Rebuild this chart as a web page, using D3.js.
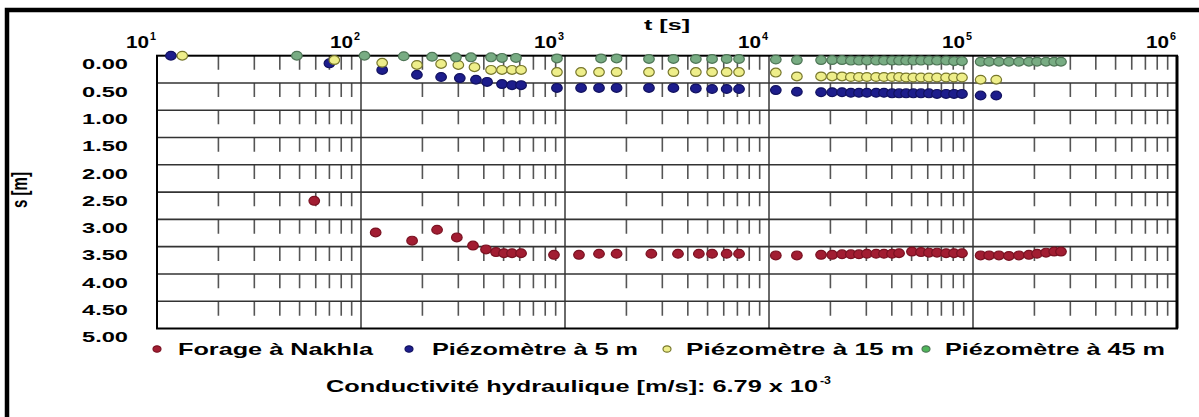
<!DOCTYPE html>
<html><head><meta charset="utf-8">
<script src="https://cdn.jsdelivr.net/npm/d3@7"></script>
<style>
body{margin:0;background:#fff}
svg{display:block}
text{font-family:"Liberation Sans",Arial,sans-serif;font-weight:bold;fill:#000}
</style>
</head><body>
<svg id="c" width="1199" height="417"></svg>
<script>
// ---------------- data ----------------
const yTicks = [0, 0.5, 1, 1.5, 2, 2.5, 3, 3.5, 4, 4.5, 5];
const yTickLabels = ["0.00","0.50","1.00","1.50","2.00","2.50","3.00","3.50","4.00","4.50","5.00"];
const decades = [10, 100, 1000, 10000, 100000, 1000000];
const decadeExp = ["1","2","3","4","5","6"];
const xTitle = "t [s]";
const yTitle = "s [m]";

// Forage à Nakhla (red)
const tRed = [59, 118, 178, 236, 295, 354, 410, 459, 502, 550, 609, 883, 1171, 1468, 1790, 2650, 3580, 4530, 5260, 6200, 7130, 10800, 13700, 18000, 20400, 22800, 25200, 27600, 30200, 33500, 36600, 40100, 43400, 50200, 55600, 60800, 66600, 73800, 80700, 88300, 109000, 120000, 134000, 150000, 168000, 188000, 206000, 228000, 250000, 270000];
const sRed = [2.66, 3.24, 3.39, 3.19, 3.33, 3.48, 3.55, 3.60, 3.62, 3.62, 3.62, 3.65, 3.65, 3.63, 3.63, 3.63, 3.63, 3.63, 3.63, 3.63, 3.63, 3.66, 3.66, 3.65, 3.65, 3.64, 3.64, 3.64, 3.63, 3.63, 3.63, 3.63, 3.62, 3.59, 3.60, 3.61, 3.61, 3.62, 3.62, 3.62, 3.66, 3.66, 3.66, 3.67, 3.66, 3.65, 3.63, 3.61, 3.59, 3.59];

// Piézomètre à 5 m (blue)
const tBlue = [11.7, 70, 127, 188, 247, 305, 366, 415, 491, 550, 609, 913, 1199, 1468, 1790, 2580, 3400, 4380, 5260, 6200, 7130, 10800, 13700, 18000, 20400, 22800, 25200, 27600, 30200, 33500, 36600, 40100, 43400, 47000, 51000, 55600, 60800, 66600, 73800, 80700, 88300, 109000, 130000];
const sBlue = [0.0, 0.14, 0.26, 0.35, 0.39, 0.41, 0.44, 0.48, 0.52, 0.54, 0.54, 0.59, 0.59, 0.59, 0.59, 0.59, 0.59, 0.60, 0.61, 0.61, 0.61, 0.63, 0.66, 0.67, 0.67, 0.67, 0.68, 0.68, 0.68, 0.68, 0.68, 0.69, 0.69, 0.69, 0.69, 0.69, 0.69, 0.70, 0.70, 0.70, 0.70, 0.73, 0.73];

// Piézomètre à 15 m (yellow)
const tYellow = [13.3, 74, 127, 188, 247, 300, 360, 434, 491, 550, 609, 913, 1199, 1468, 1790, 2580, 3400, 4380, 5260, 6200, 7130, 10800, 13700, 18000, 20400, 22800, 25200, 27600, 30200, 33500, 36600, 40100, 43400, 47000, 51000, 55600, 60800, 66600, 73800, 80700, 88300, 109000, 130000];
const sYellow = [0.0, 0.08, 0.13, 0.17, 0.15, 0.17, 0.21, 0.26, 0.26, 0.26, 0.26, 0.30, 0.30, 0.30, 0.30, 0.30, 0.30, 0.30, 0.30, 0.30, 0.30, 0.31, 0.38, 0.38, 0.38, 0.38, 0.39, 0.39, 0.39, 0.39, 0.39, 0.39, 0.39, 0.40, 0.40, 0.40, 0.40, 0.40, 0.40, 0.40, 0.40, 0.44, 0.44];

// Piézomètre à 45 m (green)
const tGreen = [48.5, 104, 162, 223, 292, 346, 434, 491, 575, 913, 1502, 1790, 2580, 3400, 4380, 5260, 6200, 7130, 10800, 13700, 18000, 20400, 22800, 25200, 27600, 30200, 33500, 36600, 40100, 43400, 47000, 51000, 55600, 60800, 66600, 73800, 80700, 88300, 109000, 120000, 134000, 150000, 168000, 188000, 206000, 228000, 250000, 270000];
const sGreen = [0.0, 0.0, 0.01, 0.02, 0.03, 0.03, 0.03, 0.04, 0.04, 0.05, 0.05, 0.05, 0.06, 0.06, 0.06, 0.06, 0.06, 0.06, 0.07, 0.08, 0.08, 0.08, 0.08, 0.09, 0.09, 0.09, 0.09, 0.09, 0.09, 0.09, 0.09, 0.09, 0.09, 0.09, 0.09, 0.09, 0.10, 0.10, 0.11, 0.11, 0.11, 0.11, 0.11, 0.11, 0.11, 0.11, 0.11, 0.11];

const seriesNames = ["Forage à Nakhla", "Piézomètre à 5 m", "Piézomètre à 15 m", "Piézomètre à 45 m"];
const footText = "Conductivité hydraulique [m/s]:  6.79 x 10";
const footExp = "-3";

// ---------------- layout / style ----------------
const fills   = ["#a21d32", "#1d1d8c", "#eeee8a", "#78ac83"];
const strokes = ["#7a1222", "#121260", "#77772c", "#4f7657"];
const legendFills = ["#a21d32", "#1d1d8c", "#eeee8a", "#4fb65a"];
const legendMarkX = [157, 409, 667, 926];
const legendTextX = [178, 432, 686, 945];
const legendTextW = [195, 206, 228, 220];

const svg = d3.select("#c");
const x = d3.scaleLog().domain([10, 1e6]).range([157, 1177]);
const y = d3.scaleLinear().domain([0, 5]).range([55.7, 328.5]);
const [x0, x1] = x.range(), [y0, y1] = y.range();

// outer frame (only top and left visible)
svg.append("rect").attr("x", 7).attr("y", 10).attr("width", 1300).attr("height", 600)
  .attr("fill", "none").attr("stroke", "#000").attr("stroke-width", 4.5);

const grid = svg.append("g");
const allTicks = x.ticks();
const minor = allTicks.filter(t => !decades.includes(t));
grid.selectAll("line.minor").data(minor).join("line").attr("class", "minor")
  .attr("x1", d => x(d)).attr("x2", d => x(d)).attr("y1", y0).attr("y2", y1)
  .attr("stroke", "#555").attr("stroke-width", 1.6).attr("stroke-dasharray", "14,13.33");
grid.selectAll("line.major").data(decades.slice(1, -1)).join("line").attr("class", "major")
  .attr("x1", d => x(d)).attr("x2", d => x(d)).attr("y1", y0).attr("y2", y1)
  .attr("stroke", "#6a6a6a").attr("stroke-width", 2);
grid.selectAll("line.h").data(yTicks.slice(1, -1)).join("line").attr("class", "h")
  .attr("x1", x0).attr("x2", x1).attr("y1", d => y(d)).attr("y2", d => y(d))
  .attr("stroke", "#333").attr("stroke-width", 1.6);
svg.append("rect").attr("x", x0).attr("y", y0).attr("width", x1 - x0).attr("height", y1 - y0)
  .attr("fill", "none").attr("stroke", "#000").attr("stroke-width", 2);
svg.append("line").attr("x1", x1).attr("x2", x1).attr("y1", y0).attr("y2", y1)
  .attr("stroke", "#000").attr("stroke-width", 3);

// y tick labels (offset below the gridlines, as in the original)
const yAxis = d3.axisLeft(y).tickValues(yTicks).tickSize(0).tickFormat((d, i) => yTickLabels[i]);
const ya = svg.append("g").attr("transform", `translate(128,0)`).call(yAxis);
ya.select(".domain").remove();
ya.selectAll("text").attr("x", 0).attr("dy", "13.2").attr("text-anchor", "end")
  .style("font-size", "15px").style("font-family", '"Liberation Sans",Arial,sans-serif').style("font-weight", "bold")
  .attr("fill", "#000").attr("textLength", 46).attr("lengthAdjust", "spacingAndGlyphs");

// x decade labels
const xl = svg.append("g");
decades.forEach((d, i) => {
  const gx = x(d);
  xl.append("text").attr("x", gx - 31).attr("y", 48).style("font-size", "16px")
    .attr("textLength", 23).attr("lengthAdjust", "spacingAndGlyphs").text("10");
  xl.append("text").attr("x", gx - 7).attr("y", 40).style("font-size", "10px")
    .attr("textLength", 6).attr("lengthAdjust", "spacingAndGlyphs").text(decadeExp[i]);
});

// axis titles
svg.append("text").attr("x", 644).attr("y", 30).style("font-size", "15px")
  .attr("textLength", 46).attr("lengthAdjust", "spacingAndGlyphs").text(xTitle);
svg.append("text").attr("transform", "translate(27,190) scale(1.45,1) rotate(-90)").attr("text-anchor", "middle")
  .style("font-size", "15px").text(yTitle);

// series
const series = [
  {t: tRed, s: sRed}, {t: tBlue, s: sBlue}, {t: tYellow, s: sYellow}, {t: tGreen, s: sGreen}
];
series.forEach((sr, i) => {
  const pts = sr.t.map((t, j) => ({t, s: sr.s[j]}));
  svg.append("g").selectAll("ellipse").data(pts).join("ellipse")
    .attr("cx", d => x(d.t)).attr("cy", d => y(d.s)).attr("rx", 5.3).attr("ry", 4.4)
    .attr("fill", fills[i]).attr("stroke", strokes[i]).attr("stroke-width", 1.2);
});

// legend
const ly = 349;
seriesNames.forEach((n, i) => {
  svg.append("ellipse").attr("cx", legendMarkX[i]).attr("cy", ly).attr("rx", 4).attr("ry", 3.2)
    .attr("fill", legendFills[i]).attr("stroke", strokes[i]).attr("stroke-width", 1.2);
  svg.append("text").attr("x", legendTextX[i]).attr("y", ly + 6).style("font-size", "17px")
    .attr("textLength", legendTextW[i]).attr("lengthAdjust", "spacingAndGlyphs").text(n);
});

// footnote
svg.append("text").attr("x", 326).attr("y", 392).style("font-size", "16px")
  .attr("textLength", 492).attr("lengthAdjust", "spacingAndGlyphs").text(footText);
svg.append("text").attr("x", 820).attr("y", 384).style("font-size", "10px")
  .attr("textLength", 11).attr("lengthAdjust", "spacingAndGlyphs").text(footExp);
</script>
</body></html>
